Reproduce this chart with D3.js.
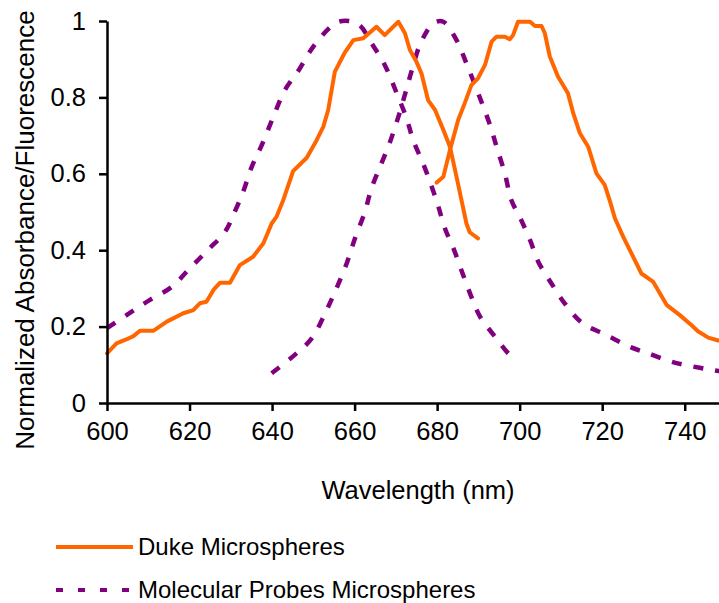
<!DOCTYPE html>
<html>
<head>
<meta charset="utf-8">
<script src="https://cdn.jsdelivr.net/npm/d3@7"></script>
<style>
  body { margin: 0; background: #fff; }
  svg { display: block; font-family: "Liberation Sans", Arial, sans-serif; }
</style>
</head>
<body>
<script>
// spectra: [wavelength nm, normalized value]
var dukeAbs = [
  [600,0.13],[602.3,0.156],[604.8,0.167],[606.4,0.175],[608,0.189],[611.2,0.189],
  [614.5,0.213],[618.5,0.235],[620.9,0.243],[622.5,0.261],[624.1,0.265],[625.8,0.296],
  [627.4,0.315],[629.8,0.315],[632.2,0.361],[635.4,0.383],[637.9,0.418],[639.9,0.47],
  [641.1,0.488],[642.7,0.531],[645.1,0.607],[648.4,0.642],[650.8,0.688],[652.4,0.723],
  [653.6,0.767],[655.2,0.867],[657.5,0.915],[659.7,0.95],[662.1,0.955],[665.3,0.985],
  [667.3,0.963],[670.6,0.998],[672.2,0.968],[673.4,0.924],[675,0.893],[676.2,0.863],
  [677.8,0.793],[679.5,0.767],[681.5,0.715],[683.1,0.671],[684.7,0.592],[685.9,0.531],
  [687.1,0.47],[687.9,0.447],[689.9,0.431]
];
var dukeEm = [
  [679.9,0.577],[681.5,0.592],[683.1,0.662],[685.1,0.741],[686.7,0.785],[688.3,0.832],
  [689.9,0.85],[691.6,0.885],[693.2,0.946],[694.4,0.959],[696.4,0.959],[697.6,0.952],
  [698.4,0.963],[699.6,0.998],[702.5,0.998],[703.7,0.987],[705.3,0.987],[706.1,0.968],
  [707.3,0.907],[709.3,0.854],[711.7,0.811],[713,0.758],[714.6,0.706],[716.6,0.671],
  [718.6,0.601],[720.6,0.571],[721.8,0.531],[723.1,0.483],[725.1,0.435],[727.9,0.374],
  [729.5,0.339],[732.3,0.318],[735.6,0.257],[738.8,0.23],[741.6,0.204],[743.2,0.188],
  [745.7,0.171],[747.7,0.165],[750,0.158]
];
var probesAbs = [
  [600,0.196],[605,0.232],[610.4,0.27],[615.7,0.304],[620.1,0.353],[624.5,0.401],
  [628.6,0.448],[630.6,0.492],[633,0.553],[635.1,0.619],[637.5,0.675],[640.3,0.749],
  [643.1,0.819],[646.5,0.872],[650,0.933],[654.8,0.99],[657,1.0],[660.9,0.992],
  [664.1,0.942],[667.3,0.885],[670.2,0.811],[672.6,0.745],[674.2,0.688],[676.6,0.627],
  [678.7,0.566],[680.3,0.514],[681.9,0.457],[684.1,0.401],[686.3,0.335],[688.3,0.278],
  [690.4,0.226],[694,0.174],[697.6,0.126],[699,0.115]
];
var probesEm = [
  [639.9,0.078],[645.5,0.126],[649.6,0.169],[653.2,0.243],[655.6,0.3],[658.1,0.366],
  [660.1,0.431],[662.5,0.501],[664.1,0.562],[666.5,0.627],[668.6,0.684],[670.6,0.749],
  [672.4,0.815],[674,0.876],[676,0.942],[679.1,0.994],[681.5,0.998],[684.7,0.95],
  [687.1,0.889],[690.4,0.798],[692.8,0.728],[694.4,0.671],[696.4,0.601],[698,0.531],
  [700.2,0.483],[702.5,0.427],[704.5,0.37],[707.7,0.313],[710.9,0.261],[715.2,0.209],
  [721,0.178],[726.7,0.147],[731.1,0.13],[736.8,0.108],[740.8,0.098],[746.9,0.086],
  [750,0.081]
];
var xTicks = [600, 620, 640, 660, 680, 700, 720, 740];
var yTicks = [0, 0.2, 0.4, 0.6, 0.8, 1];
var seriesNames = ["Duke Microspheres", "Molecular Probes Microspheres"];

var width = 719, height = 603;
var orange = "#ff6600", purple = "#800080";

var svg = d3.select("body").append("svg")
    .attr("width", width)
    .attr("height", height);

var x = d3.scaleLinear().domain([600, 750]).range([107, 726]);
var y = d3.scaleLinear().domain([0, 1]).range([403, 21]);

var line = d3.line()
    .x(function(d) { return x(d[0]); })
    .y(function(d) { return y(d[1]); });
var smooth = d3.line()
    .curve(d3.curveCatmullRom)
    .x(function(d) { return x(d[0]); })
    .y(function(d) { return y(d[1]); });

// curves
[probesAbs, probesEm].forEach(function(s) {
  svg.append("path")
      .attr("d", smooth(s))
      .attr("fill", "none")
      .attr("stroke", purple)
      .attr("stroke-width", 4.5)
      .attr("stroke-dasharray", "10,12");
});
[dukeAbs, dukeEm].forEach(function(s) {
  svg.append("path")
      .attr("d", line(s))
      .attr("fill", "none")
      .attr("stroke", orange)
      .attr("stroke-width", 4)
      .attr("stroke-linejoin", "round")
      .attr("stroke-linecap", "round");
});

// axes
var xAxis = svg.append("g")
    .attr("transform", "translate(0," + y(0) + ")")
    .call(d3.axisBottom(x).tickValues(xTicks).tickSize(8).tickSizeOuter(0).tickPadding(11));
var yAxis = svg.append("g")
    .attr("transform", "translate(" + x(600) + ",0)")
    .call(d3.axisLeft(y).tickValues(yTicks).tickSize(8).tickSizeOuter(0).tickPadding(13)
      .tickFormat(function(d) { return String(+d.toFixed(1)); }));

[xAxis, yAxis].forEach(function(g) {
  g.select(".domain").attr("stroke", "#000").attr("stroke-width", 2.5);
  g.selectAll(".tick line").attr("stroke", "#000").attr("stroke-width", 2.5);
  g.selectAll(".tick text")
      .attr("fill", "#000")
      .style("font-size", "25.5px")
      .style("font-family", "Liberation Sans, Arial, sans-serif");
});

svg.append("text")
    .attr("x", 418)
    .attr("y", 499)
    .attr("text-anchor", "middle")
    .style("font-size", "25.5px")
    .text("Wavelength (nm)");

svg.append("text")
    .attr("transform", "translate(34,230) rotate(-90)")
    .attr("text-anchor", "middle")
    .style("font-size", "26px")
    .text("Normalized Absorbance/Fluorescence");

// legend
var legend = svg.append("g");
seriesNames.forEach(function(name, i) {
  var ly = 547 + i * 43;
  legend.append("line")
      .attr("x1", 56).attr("x2", 133)
      .attr("y1", ly).attr("y2", ly)
      .attr("stroke", i === 0 ? orange : purple)
      .attr("stroke-width", 4)
      .attr("stroke-dasharray", i === 0 ? null : "7,15");
  legend.append("text")
      .attr("x", 138)
      .attr("y", ly + 8)
      .style("font-size", "24px")
      .text(name);
});
</script>
</body>
</html>
